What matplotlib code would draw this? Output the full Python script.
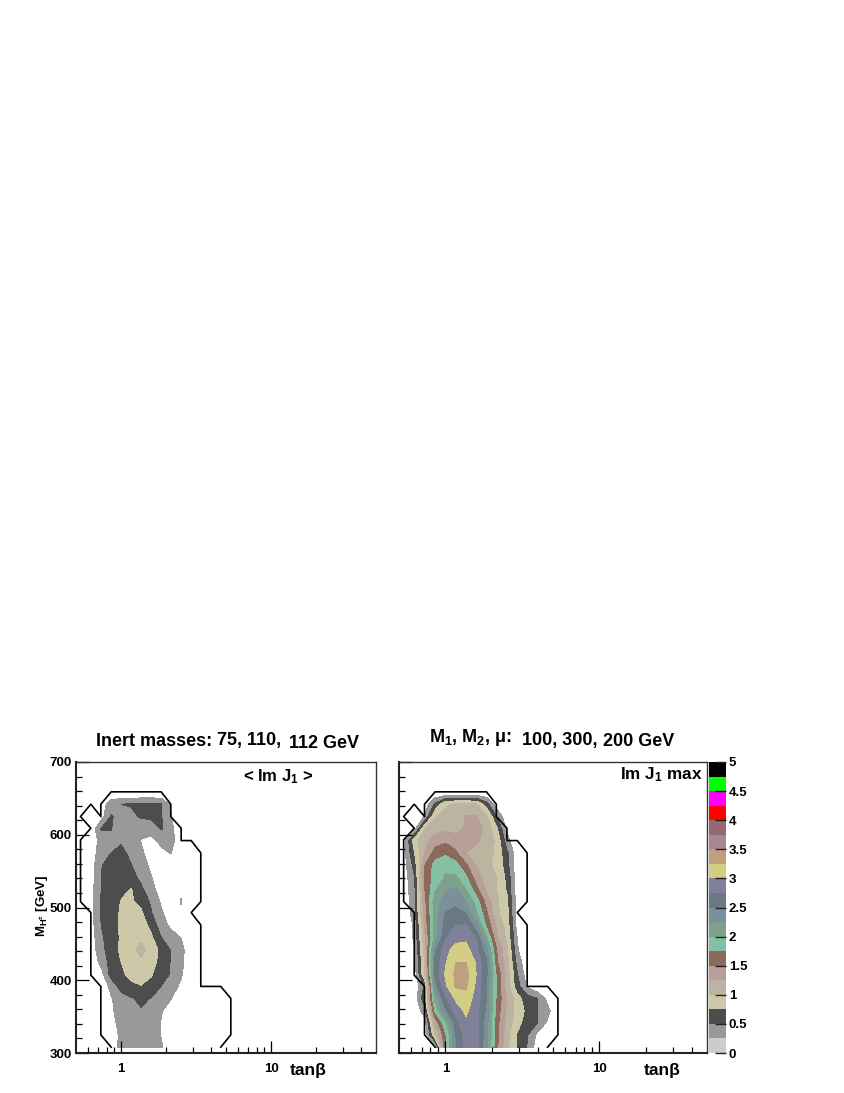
import matplotlib
matplotlib.use('Agg')
import matplotlib.pyplot as plt
import numpy as np
from matplotlib.colors import ListedColormap, BoundaryNorm

plt.rcParams['font.family'] = ['Liberation Sans', 'DejaVu Sans']
plt.rcParams['font.weight'] = 'bold'
plt.rcParams['mathtext.fontset'] = 'custom'
plt.rcParams['mathtext.rm'] = 'Liberation Sans:bold'
plt.rcParams['mathtext.default'] = 'rm'

# scan grid
tanb = [0.541, 0.631, 0.736, 0.857, 1.0, 1.167, 1.358, 1.585, 1.849, 2.154, 2.512, 2.93, 3.41, 3.98, 4.64, 5.41]
mh = [308, 325, 342, 358, 375, 392, 408, 425, 442, 458, 475, 492, 508, 525, 542, 558, 575, 592, 608, 625, 642, 658]

# < Im J1 >, one row per mh
im_mean = [
    [0, 0, 0, .10, .33, .38, .40, .38, .28, .10, 0, 0, 0, 0, 0, 0],
    [0, 0, 0, .10, .31, .40, .42, .35, .24, .10, 0, 0, 0, 0, 0, 0],
    [0, 0, 0, .15, .36, .42, .45, .36, .24, .10, 0, 0, 0, 0, 0, 0],
    [0, 0, 0, .20, .38, .44, .48, .40, .27, .12, 0, 0, 0, 0, 0, 0],
    [0, 0, 0, .23, .38, .48, .55, .49, .38, .26, .05, 0, 0, 0, 0, 0],
    [0, 0, .05, .33, .62, .70, .74, .68, .50, .37, .20, 0, 0, 0, 0, 0],
    [0, 0, .15, .60, .70, .82, .88, .77, .62, .47, .28, .05, 0, 0, 0, 0],
    [0, .05, .33, .60, .75, .88, .96, .86, .66, .48, .32, .03, 0, 0, 0, 0],
    [0, .10, .42, .63, .80, .93, 1.08, .90, .68, .48, .35, .02, 0, 0, 0, 0],
    [0, .12, .46, .62, .78, .88, .96, .80, .51, .37, .25, 0, 0, 0, 0, 0],
    [0, .15, .50, .63, .80, .88, .87, .68, .36, .20, 0, 0, 0, 0, 0, 0],
    [0, .17, .52, .65, .78, .85, .80, .52, .29, .10, .20, 0, 0, 0, 0, 0],
    [0, .17, .52, .64, .76, .78, .68, .46, .22, .06, .27, 0, 0, 0, 0, 0],
    [0, .16, .50, .62, .70, .76, .56, .30, .18, .05, .20, 0, 0, 0, 0, 0],
    [0, .14, .50, .60, .65, .60, .42, .26, .10, 0, 0, 0, 0, 0, 0, 0],
    [0, .12, .49, .58, .62, .51, .36, .20, .05, 0, 0, 0, 0, 0, 0, 0],
    [0, .10, .40, .50, .56, .44, .29, .15, .20, .26, 0, 0, 0, 0, 0, 0],
    [0, .08, .35, .43, .47, .37, .24, .20, .30, .34, .08, 0, 0, 0, 0, 0],
    [0, .07, .52, .51, .36, .38, .33, .32, .52, .33, 0, 0, 0, 0, 0, 0],
    [0, 0, .15, .52, .42, .44, .53, .56, .52, .26, 0, 0, 0, 0, 0, 0],
    [0, 0, .10, .40, .50, .52, .54, .55, .51, .20, 0, 0, 0, 0, 0, 0],
    [0, 0, 0, 0, 0, 0, 0, 0, 0, 0, 0, 0, 0, 0, 0, 0],
]

# Im J1 max
im_max = [
    [0, 0, 0, .10, 1.70, 2.45, 2.85, 2.85, 2.30, 1.55, 1.05, .72, .48, .10, 0, 0],
    [0, 0, .05, 1.00, 1.70, 2.50, 2.85, 2.85, 2.35, 1.60, 1.10, .72, .52, .18, 0, 0],
    [0, 0, .15, 1.30, 1.95, 2.65, 2.95, 2.85, 2.35, 1.60, 1.15, .85, .62, .50, .20, 0],
    [0, .05, .40, 1.80, 2.45, 2.85, 3.05, 2.85, 2.45, 1.65, 1.20, .90, .68, .50, .32, 0],
    [0, .10, .70, 2.10, 2.70, 3.05, 3.15, 2.90, 2.50, 1.70, 1.25, .85, .60, .50, .15, 0],
    [0, .05, .55, 2.40, 2.95, 3.28, 3.30, 2.95, 2.50, 1.70, 1.10, .60, .20, 0, 0, 0],
    [0, .10, 1.00, 2.55, 3.03, 3.30, 3.35, 3.00, 2.55, 1.70, 1.15, .52, .10, 0, 0, 0],
    [0, .20, 1.05, 2.55, 2.97, 3.25, 3.25, 2.98, 2.55, 1.55, 1.10, .40, .05, 0, 0, 0],
    [0, .22, 1.10, 2.45, 2.90, 3.12, 3.10, 2.82, 2.35, 1.50, 1.05, .28, 0, 0, 0, 0],
    [0, .30, 1.20, 2.10, 2.72, 2.90, 2.95, 2.74, 2.05, 1.30, .95, .25, 0, 0, 0, 0],
    [0, .30, 1.30, 2.15, 2.60, 2.75, 2.78, 2.35, 1.70, 1.20, .90, .15, 0, 0, 0, 0],
    [0, .42, 1.40, 2.10, 2.52, 2.60, 2.50, 2.05, 1.55, 1.05, .85, .12, 0, 0, 0, 0],
    [.05, .45, 1.42, 2.15, 2.35, 2.42, 2.25, 1.90, 1.40, 1.05, .80, .12, 0, 0, 0, 0],
    [.10, .45, 1.50, 1.95, 2.22, 2.28, 2.00, 1.60, 1.20, 1.00, .72, .10, 0, 0, 0, 0],
    [.12, .50, 1.55, 1.85, 2.02, 2.03, 1.80, 1.35, 1.15, 1.00, .68, .08, 0, 0, 0, 0],
    [.15, .60, 1.50, 1.85, 1.95, 1.85, 1.55, 1.25, 1.05, .95, .60, .05, 0, 0, 0, 0],
    [.18, .75, 1.25, 1.60, 1.70, 1.55, 1.25, 1.15, 1.10, .95, .55, .08, 0, 0, 0, 0],
    [.20, .90, 1.18, 1.38, 1.45, 1.35, 1.30, 1.30, 1.15, .95, .35, 0, 0, 0, 0, 0],
    [0, .18, 1.00, 1.15, 1.20, 1.18, 1.28, 1.35, 1.18, .80, .20, 0, 0, 0, 0, 0],
    [0, 0, .28, .98, 1.12, 1.15, 1.26, 1.28, 1.05, .50, .05, 0, 0, 0, 0, 0],
    [0, 0, .10, .55, .95, 1.05, 1.05, 1.02, .62, .10, 0, 0, 0, 0, 0, 0],
    [0, 0, 0, 0, 0, 0, 0, 0, 0, 0, 0, 0, 0, 0, 0, 0],
]

# boundary of the allowed region
bound_tanb = [0.858, 0.732, 0.732, 0.628, 0.628, 0.536, 0.536, 0.628, 0.536, 0.628, 0.732, 0.732, 0.858,
              1.848, 2.143, 2.143, 2.512, 2.512, 2.93, 3.396, 3.396, 2.93, 3.396, 3.396, 4.613, 5.383, 5.383, 4.613]
bound_mh = [308, 325, 391.5, 407, 493, 508, 593, 609, 625, 642, 625, 642, 659,
            659, 642, 625, 609, 592, 592, 575, 508, 493, 476, 391.5, 391.5, 375, 325, 308]

levels = [0, .25, .5, .75, 1, 1.25, 1.5, 1.75, 2, 2.25, 2.5, 2.75, 3, 3.25, 3.5, 3.75, 4, 4.25, 4.5, 4.75, 5]
colors = ['#cccccc', '#999999', '#4d4d4d', '#cdc8a8', '#bab4a0', '#b8a098', '#8a6a58', '#84c0a4', '#80a08e',
          '#7a909a', '#6a7a85', '#808098', '#d2cf84', '#bf9f80', '#a88890', '#966870', '#ff0000', '#ff00ff',
          '#00ff00', '#000000']
cbar_ticks = [0, .5, 1, 1.5, 2, 2.5, 3, 3.5, 4, 4.5, 5]
cbar_labels = ['0', '0.5', '1', '1.5', '2', '2.5', '3', '3.5', '4', '4.5', '5']

W, H = 845, 1093
fig = plt.figure(figsize=(W / 100, H / 100), dpi=100)


def px_axes(x0, x1, ytop, ybot):
    return fig.add_axes([x0 / W, 1 - ybot / H, (x1 - x0) / W, (ybot - ytop) / H])


def px_text(x, y, s, size=13, **kw):
    fig.text(x / W, 1 - y / H, s, fontsize=size, va='center', fontweight='bold', **kw)


def panel(ax, z, ylabels):
    # x runs in log10(tanb) so the contours are interpolated in log space
    # below 0.25 stays white, as in the reference
    ax.contourf(np.log10(tanb), mh, np.array(z), levels=levels[1:], colors=colors[1:])
    ax.plot(np.log10(bound_tanb), bound_mh, color='black', lw=1.2)
    ax.set_xlim(np.log10(0.5), np.log10(50))
    ax.set_ylim(300, 700)
    ax.set_xticks(np.log10([1, 10]))
    ax.set_xticklabels(['1', '10'])
    ax.set_xticks(np.log10([.6, .7, .8, .9, 2, 3, 4, 5, 6, 7, 8, 9, 20, 30, 40]), minor=True)
    ax.set_yticks([300, 400, 500, 600, 700])
    ax.set_yticks(np.arange(300, 701, 20), minor=True)
    if not ylabels:
        ax.set_yticklabels([])
    ax.tick_params(which='major', direction='in', length=9, width=0.9, labelsize=9.5, pad=3, color='black')
    ax.tick_params(which='minor', direction='in', length=4.5, width=0.9, color='black')
    ax.tick_params(axis='x', which='major', pad=7)
    for s in ['top', 'right']:
        ax.spines[s].set_linewidth(1.0)
        ax.spines[s].set_color('#333333')
    for s in ['bottom', 'left']:
        ax.spines[s].set_linewidth(1.5)
        ax.spines[s].set_color('#222222')


ax1 = px_axes(76, 376, 762, 1053)
panel(ax1, im_mean, True)
ax2 = px_axes(399, 707, 762, 1053)
panel(ax2, im_max, False)

# colour bar
cax = px_axes(709, 726, 762, 1053)
cax.pcolormesh([0, 1], levels, np.array(levels[:-1]).reshape(-1, 1),
               cmap=ListedColormap(colors), norm=BoundaryNorm(levels, len(colors)))
cax.set_xticks([])
cax.set_ylim(0, 5)
cax.yaxis.tick_right()
cax.set_yticks(cbar_ticks)
cax.set_yticklabels(cbar_labels)
cax.tick_params(direction='in', length=8, width=1, labelsize=9.5, pad=2, color='#222222')
for s in cax.spines.values():
    s.set_visible(False)

# titles, pieced together like the original
px_text(96, 742, 'Inert masses:')
px_text(217, 740, '75, 110,')
px_text(289, 743, '112 GeV')
px_text(429, 738, r'M$_{1}$, M$_{2}$, μ:')
px_text(522, 741, '100, 300,')
px_text(603, 742, '200 GeV')

px_text(243, 777, r'< Im J$_{1}$ >', size=12)
px_text(620, 775, r'Im J$_{1}$ max', size=12.3)

px_text(290, 1071, 'tanβ', size=12.5)
px_text(644, 1071, 'tanβ', size=12.5)
fig.text(42 / W, 1 - 906 / H, r'M$_{H^{\pm}}$ [GeV]', rotation=90, fontsize=9.5, fontweight='bold',
         ha='center', va='center')

fig.savefig('out.png', dpi=100)
